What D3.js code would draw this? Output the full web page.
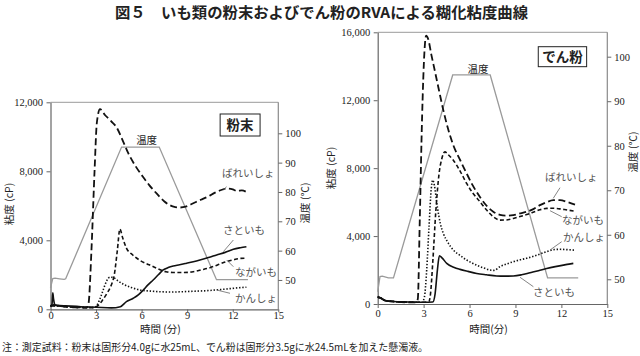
<!DOCTYPE html>
<html><head><meta charset="utf-8">
<script src="https://cdn.jsdelivr.net/npm/d3@7"></script>
<style>body{margin:0;background:#fff}svg{display:block}</style>
</head><body>
<svg id="c" width="640" height="356"></svg>
<script>
// ---------- data ----------
const xTicks = [0, 3, 6, 9, 12, 15];
const tempTicks = [50, 60, 70, 80, 90, 100];
const powderViscTicks = [0, 4000, 8000, 12000];
const starchViscTicks = [0, 4000, 8000, 12000, 16000];
const seriesNames = ["ばれいしょ", "ながいも", "かんしょ", "さといも"];

// temperature profile (°C)
const powderTempT = [0, 0.15, 0.3, 0.6, 0.9, 1.0, 4.68, 7.16, 10.93, 13.0];
const powderTempV = [47.3, 50.5, 50.6, 50.4, 50.2, 50.4, 95.3, 95.3, 50.1, 50.1];
const starchTempT = [0, 0.15, 0.3, 0.7, 1.03, 4.9, 7.35, 11.1, 13.1];
const starchTempV = [47.2, 50.6, 50.7, 50.3, 50.3, 95.9, 95.9, 50.3, 50.3];

// 粉末 (powder) viscosity, cP
const powderBareishoT = [0, 0.2, 0.5, 1.0, 1.5, 2.0, 2.4, 2.5, 2.7, 2.9, 3.05, 3.26, 3.6, 4.0, 4.35, 4.7, 5.12, 5.6, 6.11, 6.5, 7.0, 7.5, 8.1, 8.5, 8.9, 9.4, 9.9, 10.4, 10.8, 11.2, 11.6, 12.0, 12.3, 12.6, 12.9];
const powderBareishoV = [200, 250, 200, 150, 120, 100, 100, 300, 3500, 8000, 10800, 11600, 11250, 10900, 10550, 9900, 9050, 8300, 7650, 7200, 6700, 6250, 5950, 5900, 5950, 6150, 6350, 6550, 6750, 6900, 7000, 6950, 6850, 6900, 6800];
const powderNagaimoT = [0, 0.3, 1, 2, 2.9, 3.1, 3.4, 3.7, 4.0, 4.2, 4.4, 4.57, 4.75, 5.0, 5.4, 5.9, 6.5, 7.0, 7.6, 8.2, 8.8, 9.4, 9.9, 10.5, 11.0, 11.5, 12.0, 12.5, 12.9];
const powderNagaimoV = [200, 200, 150, 100, 100, 200, 500, 900, 1400, 2000, 3400, 4650, 4150, 3550, 3160, 2830, 2580, 2380, 2180, 2130, 2130, 2180, 2280, 2410, 2570, 2740, 2860, 2950, 2960];
const powderKanshoT = [0, 0.3, 1, 2, 2.9, 3.1, 3.3, 3.5, 3.7, 3.92, 4.15, 4.4, 4.8, 5.3, 5.9, 6.5, 7.2, 8.0, 8.7, 9.5, 10.3, 11.0, 11.6, 12.3, 12.9];
const powderKanshoV = [200, 200, 150, 120, 100, 300, 700, 1200, 1650, 1860, 1840, 1680, 1450, 1270, 1120, 1060, 1020, 1000, 1020, 1050, 1080, 1130, 1180, 1240, 1280];
const powderSatoimoT = [0, 0.1, 0.15, 0.2, 0.25, 0.3, 0.6, 1.0, 2.0, 3.0, 4.0, 4.6, 5.0, 5.45, 5.8, 6.11, 6.4, 6.76, 7.1, 7.42, 7.75, 8.08, 8.5, 8.96, 9.4, 9.84, 10.4, 10.94, 11.5, 12.04, 12.5, 12.9];
const powderSatoimoV = [150, 300, 950, 600, 350, 250, 220, 200, 150, 120, 80, 150, 440, 640, 850, 1120, 1400, 1700, 2000, 2280, 2420, 2510, 2580, 2670, 2760, 2860, 3000, 3150, 3300, 3480, 3570, 3630];

// でん粉 (starch) viscosity, cP
const starchBareishoT = [0, 0.2, 0.5, 1, 2, 2.5, 2.62, 2.75, 2.9, 3.05, 3.16, 3.3, 3.5, 3.74, 4.0, 4.29, 4.6, 4.94, 5.4, 5.81, 6.2, 6.68, 7.1, 7.55, 7.99, 8.4, 8.86, 9.3, 9.73, 10.2, 10.6, 11.0, 11.47, 11.91, 12.4, 12.89];
const starchBareishoV = [400, 350, 200, 150, 100, 100, 300, 5000, 11000, 14800, 15800, 15600, 14700, 13700, 12600, 11400, 10300, 9350, 8450, 7690, 7000, 6300, 5800, 5430, 5250, 5200, 5240, 5330, 5430, 5600, 5820, 5980, 6120, 6120, 6000, 5850];
const starchNagaimoT = [0, 0.2, 0.5, 1, 2, 3.0, 3.35, 3.45, 3.6, 3.8, 4.0, 4.2, 4.39, 4.6, 4.94, 5.4, 5.81, 6.2, 6.68, 7.1, 7.55, 7.99, 8.4, 8.86, 9.3, 9.73, 10.2, 10.6, 11.04, 11.5, 11.91, 12.4, 12.89];
const starchNagaimoV = [400, 350, 200, 150, 100, 100, 150, 600, 2500, 5500, 7600, 8600, 8960, 8800, 8470, 7800, 7100, 6550, 6020, 5550, 5140, 4940, 4950, 5040, 5150, 5270, 5420, 5550, 5630, 5640, 5600, 5530, 5470];
const starchKanshoT = [0, 0.2, 0.5, 1, 2, 2.9, 3.05, 3.2, 3.35, 3.5, 3.59, 3.7, 3.9, 4.1, 4.29, 4.6, 4.94, 5.4, 5.81, 6.2, 6.68, 7.0, 7.33, 7.6, 7.99, 8.4, 8.86, 9.3, 9.73, 10.4, 11.04, 11.5, 11.91, 12.4, 12.89];
const starchKanshoV = [400, 350, 200, 150, 100, 100, 400, 2000, 4500, 6800, 7300, 7000, 5700, 4700, 4150, 3600, 3180, 2850, 2590, 2400, 2200, 2100, 2000, 1980, 2200, 2350, 2490, 2600, 2690, 2880, 3080, 3200, 3220, 3200, 3170];
const starchSatoimoT = [0, 0.2, 0.5, 1, 2, 3, 3.6, 3.75, 3.9, 4.03, 4.2, 4.51, 5.0, 5.38, 5.9, 6.47, 7.1, 7.77, 8.3, 8.86, 9.4, 9.95, 10.5, 11.04, 11.6, 12.13, 12.5, 12.78];
const starchSatoimoV = [450, 350, 200, 150, 120, 100, 120, 600, 2000, 2840, 2720, 2390, 2150, 2040, 1920, 1800, 1720, 1650, 1640, 1650, 1720, 1840, 1960, 2090, 2200, 2290, 2350, 2390];

// ---------- rendering ----------
const svg = d3.select("#c");
svg.append("rect").attr("width", 640).attr("height", 356).attr("fill", "#fff");

const JP = "'Noto Sans CJK JP','Noto Sans',sans-serif";
const SERIF = "Liberation Serif";
const styles = {
  "ばれいしょ": {dash: "7,3.5", w: 1.8},
  "ながいも": {dash: "4,2.5", w: 1.6},
  "かんしょ": {dash: "1.4,1.8", w: 1.6},
  "さといも": {dash: null, w: 1.6}
};
const zip = (t, v) => t.map((d, i) => [d, v[i]]);

const panels = [
  {
    x0: 50.5, x1: 278.3, y0: 309.3, y1: 102.3, vmax: 12000, tdom: [40.0, 110.57],
    vTicks: powderViscTicks, xTickSize: 3, xTickPad: -1,
    temp: zip(powderTempT, powderTempV),
    series: [zip(powderBareishoT, powderBareishoV), zip(powderNagaimoT, powderNagaimoV),
             zip(powderKanshoT, powderKanshoV), zip(powderSatoimoT, powderSatoimoV)],
    boxText: "粉末", box: [11.17, 13.8, 11322, 10046],
    tempLabel: [6.33, 9583],
    labels: [[11.29, 7670], [12.15, 1930], [12.15, 423], [11.36, 4365]],
    leaders: [[[11.6, 7107], [11.38, 6916]], [[12.04, 2470], [11.6, 2858]], [[11.82, 928], [10.94, 1119]], [[12.04, 4017], [11.38, 3339]]],
    yTitle: [13, 204], tTitle: [309, 203], xTitle: "時間 (分)", xTitleY: 333
  },
  {
    x0: 377.7, x1: 607.3, y0: 304, y1: 32.3, vmax: 16000, tdom: [44.45, 105.48],
    vTicks: starchViscTicks, xTickSize: 4, xTickPad: 2,
    temp: zip(starchTempT, starchTempV),
    series: [zip(starchBareishoT, starchBareishoV), zip(starchNagaimoT, starchNagaimoV),
             zip(starchKanshoT, starchKanshoV), zip(starchSatoimoT, starchSatoimoV)],
    boxText: "でん粉", box: [10.49, 13.65, 15152, 13975],
    tempLabel: [6.55, 13603],
    labels: [[10.93, 7243], [12.04, 4711], [12.11, 3710], [10.15, 471]],
    leaders: [[[11.91, 6849], [11.47, 6225]], [[12.02, 5141], [11.26, 5494]], [[12.02, 3669], [11.26, 3180]], [[10.17, 1019], [9.3, 1572]]],
    yTitle: [335, 168], tTitle: [637, 152], xTitle: "時間(分)", xTitleY: 333
  }
];

panels.forEach(p => {
  const g = svg.append("g");
  const x = d3.scaleLinear().domain([0, 15]).range([p.x0, p.x1]);
  const y = d3.scaleLinear().domain([0, p.vmax]).range([p.y0, p.y1]);
  const yt = d3.scaleLinear().domain(p.tdom).range([p.y0, p.y1]);

  // frame
  g.append("line").attr("x1", p.x0).attr("x2", p.x1).attr("y1", p.y1).attr("y2", p.y1).attr("stroke", "#9a9a9a").attr("stroke-width", 1);
  g.append("line").attr("x1", p.x1).attr("x2", p.x1).attr("y1", p.y1).attr("y2", p.y0).attr("stroke", "#8a8a8a").attr("stroke-width", 1.2);

  const styleAxis = (sel) => {
    sel.attr("font-family", SERIF).attr("font-size", 10.5);
    sel.selectAll("path.domain").attr("stroke", "#666").attr("stroke-width", 1.2);
    sel.selectAll(".tick line").attr("stroke", "#666");
    sel.selectAll(".tick text").attr("fill", "#222").attr("font-family", SERIF);
  };

  g.append("g").attr("transform", `translate(0,${p.y0})`)
    .call(d3.axisBottom(x).tickValues(xTicks).tickSize(p.xTickSize).tickPadding(p.xTickPad).tickSizeOuter(0))
    .call(styleAxis);
  g.append("g").attr("transform", `translate(${p.x0},0)`)
    .call(d3.axisLeft(y).tickValues(p.vTicks).tickFormat(d3.format(",")).tickSize(4).tickPadding(3.5).tickSizeOuter(0))
    .call(styleAxis);
  g.append("g").attr("transform", `translate(${p.x1},0)`)
    .call(d3.axisRight(yt).tickValues(tempTicks).tickSize(4).tickPadding(3).tickSizeOuter(0))
    .call(styleAxis)
    .call(s => s.select("path.domain").attr("stroke", "none"));

  // temperature line
  const tl = d3.line().x(d => x(d[0])).y(d => yt(d[1]));
  g.append("path").datum(p.temp).attr("d", tl).attr("fill", "none").attr("stroke", "#9a9a9a").attr("stroke-width", 1.3);

  // viscosity curves
  const vl = d3.line().x(d => x(d[0])).y(d => y(d[1])).curve(d3.curveMonotoneX);
  p.series.forEach((s, i) => {
    const st = styles[seriesNames[i]];
    g.append("path").datum(s).attr("d", vl).attr("fill", "none").attr("stroke", "#111")
      .attr("stroke-width", st.w).attr("stroke-dasharray", st.dash).attr("stroke-linejoin", "round");
  });

  // leaders & labels
  p.leaders.forEach(l => {
    g.append("line").attr("x1", x(l[0][0])).attr("y1", y(l[0][1])).attr("x2", x(l[1][0])).attr("y2", y(l[1][1]))
      .attr("stroke", "#666").attr("stroke-width", 0.8);
  });
  p.labels.forEach((l, i) => {
    g.append("text").attr("x", x(l[0])).attr("y", y(l[1])).text(seriesNames[i])
      .attr("font-family", JP).attr("font-size", 10.5).attr("fill", "#555");
  });
  g.append("text").attr("x", x(p.tempLabel[0])).attr("y", y(p.tempLabel[1])).attr("text-anchor", "middle")
    .text("温度").attr("font-family", JP).attr("font-size", 10.5).attr("fill", "#222");

  // box label
  const bx = x(p.box[0]), bx2 = x(p.box[1]), by = y(p.box[2]), by2 = y(p.box[3]);
  g.append("rect").attr("x", bx).attr("y", by).attr("width", bx2 - bx).attr("height", by2 - by)
    .attr("fill", "#fff").attr("stroke", "#222").attr("stroke-width", 1);
  g.append("text").attr("x", (bx + bx2) / 2).attr("y", (by + by2) / 2 + 5).attr("text-anchor", "middle")
    .text(p.boxText).attr("font-family", JP).attr("font-size", 13.5).attr("font-weight", "bold").attr("fill", "#222");

  // axis titles
  g.append("text").attr("transform", `translate(${p.yTitle[0]},${p.yTitle[1]}) rotate(-90)`).attr("text-anchor", "middle")
    .text("粘度 (cP)").attr("font-family", JP).attr("font-size", 10.5).attr("fill", "#222");
  g.append("text").attr("transform", `translate(${p.tTitle[0]},${p.tTitle[1]}) rotate(-90)`).attr("text-anchor", "middle")
    .text("温度 (℃)").attr("font-family", JP).attr("font-size", 10.5).attr("fill", "#222");
  g.append("text").attr("x", (p.x0 + p.x1) / 2 - 4).attr("y", p.xTitleY).attr("text-anchor", "middle")
    .text(p.xTitle).attr("font-family", JP).attr("font-size", 10.5).attr("fill", "#222");
});

// title & note
svg.append("text").attr("x", 321.5).attr("y", 18).attr("text-anchor", "middle")
  .attr("textLength", 413).attr("lengthAdjust", "spacingAndGlyphs")
  .text("図５　いも類の粉末およびでん粉のRVAによる糊化粘度曲線")
  .attr("font-family", JP).attr("font-size", 15).attr("font-weight", "bold").attr("fill", "#222");
svg.append("text").attr("x", 2).attr("y", 351)
  .attr("textLength", 426).attr("lengthAdjust", "spacingAndGlyphs")
  .text("注：測定試料：粉末は固形分4.0gに水25mL、でん粉は固形分3.5gに水24.5mLを加えた懸濁液。")
  .attr("font-family", JP).attr("font-size", 10.5).attr("fill", "#222");
</script>
</body></html>
